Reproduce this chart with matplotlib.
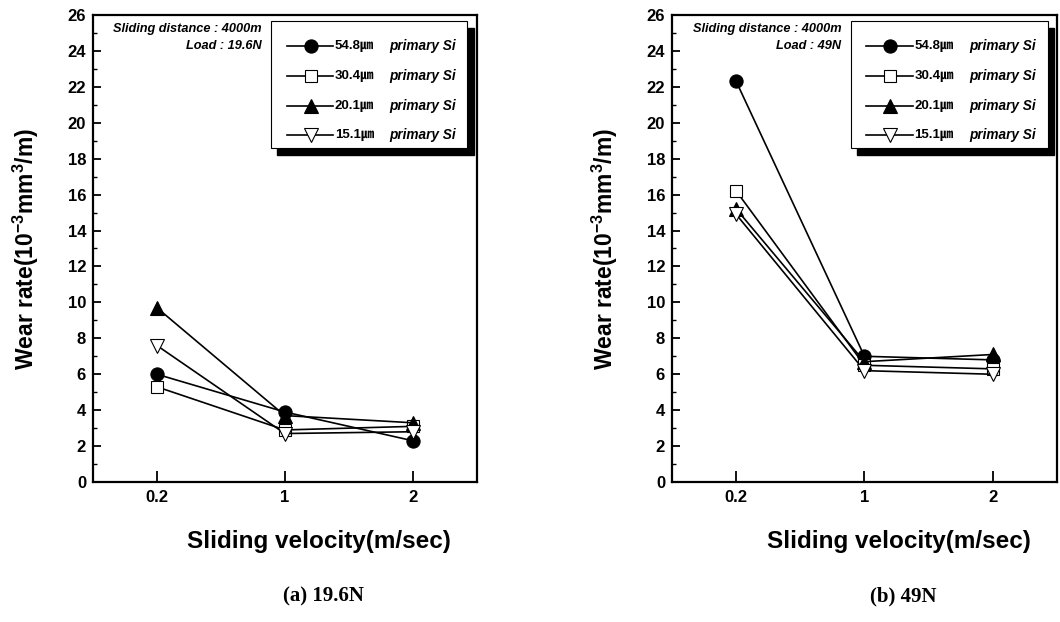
import numpy as np
import matplotlib
matplotlib.use("Agg")
import matplotlib.pyplot as plt
from matplotlib.patches import Rectangle
from matplotlib.ticker import MultipleLocator

plt.rcParams['font.family'] = ['Liberation Sans', 'Noto Sans CJK KR', 'DejaVu Sans']
plt.rcParams['mathtext.default'] = 'regular'

velocity_labels = ["0.2", "1", "2"]
si_sizes = ["54.8", "30.4", "20.1", "15.1"]

# wear rate (10^-3 mm^3/m) at 19.6 N
wear_19_6N = {
    "54.8": [6.0, 3.9, 2.3],
    "30.4": [5.3, 2.9, 3.1],
    "20.1": [9.7, 3.7, 3.3],
    "15.1": [7.6, 2.7, 2.8],
}
# wear rate (10^-3 mm^3/m) at 49 N
wear_49N = {
    "54.8": [22.3, 7.0, 6.8],
    "30.4": [16.2, 6.5, 6.3],
    "20.1": [15.2, 6.7, 7.1],
    "15.1": [14.9, 6.2, 6.0],
}
loads = ["19.6N", "49N"]
captions = ["(a) 19.6N", "(b) 49N"]

styles = {
    "54.8": dict(marker='o', mfc='black', ms=9.5),
    "30.4": dict(marker='s', mfc='white', ms=8.5),
    "20.1": dict(marker='^', mfc='black', ms=10),
    "15.1": dict(marker='v', mfc='white', ms=10),
}

fig = plt.figure(figsize=(10.6, 6.22), dpi=100)
ax_l = fig.add_axes([0.0877, 0.225, 0.362, 0.751])
ax_r = fig.add_axes([0.634, 0.225, 0.363, 0.751])

x = np.arange(len(velocity_labels))
row_y = [0.934, 0.870, 0.806, 0.744]

for ax, data, load, cap in zip([ax_l, ax_r], [wear_19_6N, wear_49N], loads, captions):
    for size in si_sizes:
        st = styles[size]
        ax.plot(x, data[size], color='black', lw=1.2, marker=st['marker'],
                mfc=st['mfc'], mec='black', mew=0.8, ms=st['ms'])

    ax.set_xlim(-0.5, 2.5)
    ax.set_ylim(0, 26)
    ax.set_xticks(x)
    ax.set_xticklabels(velocity_labels)
    ax.yaxis.set_major_locator(MultipleLocator(2))
    ax.yaxis.set_minor_locator(MultipleLocator(1))
    ax.tick_params(axis='y', which='major', direction='in', length=6, width=1.3,
                   labelsize=12, pad=5)
    ax.tick_params(axis='y', which='minor', direction='in', length=3, width=1.0)
    ax.tick_params(axis='x', direction='in', length=8, width=1.3,
                   labelsize=12, pad=6)
    for lab in ax.get_xticklabels() + ax.get_yticklabels():
        lab.set_fontweight('bold')
    for sp in ax.spines.values():
        sp.set_linewidth(1.6)

    ax.set_ylabel("Wear rate(10$^{-3}$mm$^3$/m)", fontsize=16.5, fontweight='bold')
    ax.yaxis.set_label_coords(-0.135, 0.5)
    ax.set_xlabel("Sliding velocity(m/sec)", fontsize=17.5, fontweight='bold')
    ax.xaxis.set_label_coords(0.59, -0.103)

    ax.text(0.44, 0.970, "Sliding distance : 4000m", transform=ax.transAxes,
            ha='right', va='center', fontsize=9.2, fontweight='bold', style='italic')
    ax.text(0.44, 0.934, "Load : " + load, transform=ax.transAxes,
            ha='right', va='center', fontsize=9.2, fontweight='bold', style='italic')

    # legend box with drop shadow
    bx0, by0, bw, bh = 0.464, 0.715, 0.512, 0.272
    ax.add_patch(Rectangle((bx0 + 0.016, by0 - 0.014), bw, bh, transform=ax.transAxes,
                           facecolor='black', edgecolor='black', zorder=5))
    ax.add_patch(Rectangle((bx0, by0), bw, bh, transform=ax.transAxes,
                           facecolor='white', edgecolor='black', lw=0.8, zorder=6))
    for size, yy in zip(si_sizes, row_y):
        st = styles[size]
        ax.plot([0.505, 0.625], [yy, yy], transform=ax.transAxes, color='black',
                lw=1.2, zorder=7)
        ax.plot([0.567], [yy], transform=ax.transAxes, color='black', ls='none',
                marker=st['marker'], mfc=st['mfc'], mec='black', mew=0.8,
                ms=st['ms'], zorder=8)
        ax.text(0.630, yy, size + "㎛", transform=ax.transAxes, ha='left',
                va='center', fontsize=9.5, fontweight='bold', zorder=8)
        ax.text(0.772, yy, "primary Si", transform=ax.transAxes, ha='left',
                va='center', fontsize=9.8, fontweight='bold', style='italic', zorder=8)

    ax.text(0.6, -0.245, cap, transform=ax.transAxes, ha='center', va='center',
            fontsize=15, fontweight='bold', family='Liberation Serif')

fig.savefig("out.png", dpi=100)
